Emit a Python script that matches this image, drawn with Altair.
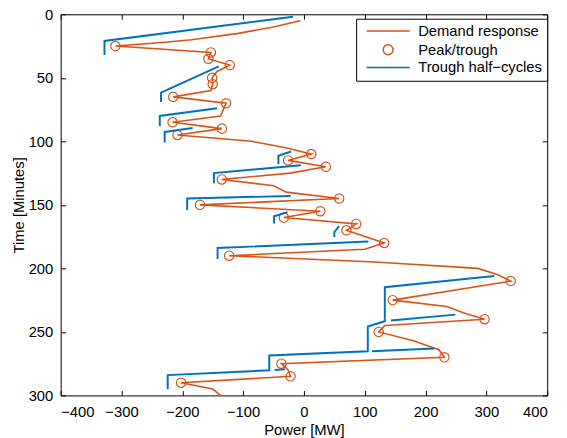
import altair as alt
import pandas as pd

ORANGE = "#D95319"
BLUE = "#0072BD"
SERIES = ["Demand response", "Peak/trough", "Trough half−cycles"]

# Demand response (minutes, MW)
dr_time = [5, 10, 15, 20, 22, 24, 25, 30, 35, 40, 45, 50, 55, 60, 65, 70,
           80, 85, 90, 95, 100, 105, 110, 115, 120, 125, 130,
           135, 140, 145, 150, 155, 160, 165, 170,
           180, 185, 190, 195, 200, 205, 210,
           225, 230, 235, 240, 245, 250, 257, 264, 270,
           275, 280, 285, 290, 295, 300]
dr_power = [-6, -50, -108, -185, -228, -282, -310, -153, -157, -122, -143, -151, -150, -153, -215, -128,
            -137, -216, -135, -208, -86, -30, 12, -26, 36, -23, -135,
            -50, -29, 58, -171, 27, -33, 86, 70,
            132, 100, -123, 117, 286, 319, 340,
            146, 235, 262, 297, 133, 123, 180, 222, 231,
            -37, -26, -22, -202, -150, -137]

# Peaks / troughs
pk_time = [25, 30, 35, 40, 50, 55, 65, 70, 85, 90, 95, 110, 115, 120, 130,
           145, 150, 155, 160, 165, 170, 180, 190, 210, 225, 240, 250, 270, 275, 285, 290]
pk_power = [-310, -153, -157, -122, -151, -150, -215, -128, -216, -135, -208, 12, -26, 36, -135,
            58, -171, 27, -33, 86, 70, 132, -123, 340, 146, 297, 123, 231, -37, -22, -202]

# Trough half-cycles (separate polylines)
tr_seg = [1, 1, 1, 2, 2, 2, 3, 3, 3, 4, 4, 4, 5, 5, 5, 6, 6, 6, 7, 7, 7, 8, 8, 8, 9, 9, 9, 10, 10, 10,
          11, 11, 11, 11, 11, 11, 11, 11, 11, 12, 12, 13, 13, 14, 14]
tr_time = [2, 21, 32, 41, 61.6, 69, 74, 80, 88, 89.5, 92.6, 101, 108, 111.4, 118, 118.8, 125, 133,
           143, 145, 154, 155.7, 159, 164.7, 166.8, 171.5, 175.3, 178.8, 184, 192.6,
           206, 214.8, 241.6, 245.7, 265.3, 268.6, 280.2, 284, 295.2, 236.4, 241, 263, 265.3, 279.5, 280]
tr_power = [-18, -328, -328, -140, -235, -235, -143, -237, -237, -183, -229, -229, -21, -42, -42,
            -5, -148, -148, -22, -192, -192, -27, -49, -49, 58, 50, 50, 106, -142, -142,
            313, 133, 133, 105, 105, -57, -57, -224, -224, 249, 143, 214, 112, -31, -48]

xticks = [-400, -300, -200, -100, 0, 100, 200, 300, 400]
yticks = [0, 50, 100, 150, 200, 250, 300]

dr = pd.DataFrame({"t": dr_time, "p": dr_power, "series": SERIES[0], "i": range(len(dr_time))})
pk = pd.DataFrame({"t": pk_time, "p": pk_power, "series": SERIES[1]})
tr = pd.DataFrame({"t": tr_time, "p": tr_power, "seg": tr_seg, "series": SERIES[2],
                   "i": range(len(tr_time))})

W, H = 494, 387
FONT = "Liberation Sans"
LINE_SYM = "M-4.4,0H4.4"

x_scale = alt.Scale(domain=[-400, 400], nice=False, zero=False)
y_scale = alt.Scale(domain=[0, 300], reverse=True, nice=False, zero=False)
color_scale = alt.Scale(domain=SERIES, range=[ORANGE, ORANGE, BLUE])
shape_scale = alt.Scale(domain=SERIES, range=[LINE_SYM, "circle", LINE_SYM])

legend = alt.Legend(title=None, orient="none", legendX=300, legendY=4.5,
                    strokeColor="black", fillColor="white",
                    padding=5, labelFontSize=15, labelFont=FONT, labelColor="black",
                    symbolSize=100, symbolStrokeWidth=1.5, symbolOffset=20, labelOffset=23,
                    rowPadding=2, labelLimit=400)

tick_common = dict(values=xticks, labels=False, title=None, domain=False, grid=False,
                   ticks=True, tickSize=5, tickColor="black", tickWidth=1)
ytick_common = dict(values=yticks, labels=False, title=None, domain=False, grid=False,
                    ticks=True, tickSize=5, tickColor="black", tickWidth=1)

line = alt.Chart(dr).mark_line(strokeWidth=1.6).encode(
    x=alt.X("p:Q", scale=x_scale,
            axis=alt.Axis(orient="bottom", values=xticks, title="Power [MW]", ticks=False,
                          domain=False, grid=False, labelPadding=9, titlePadding=4)),
    y=alt.Y("t:Q", scale=y_scale,
            axis=alt.Axis(orient="left", values=yticks, title="Time [Minutes]", ticks=False,
                          domain=False, grid=False, labelPadding=8, titlePadding=2)),
    color=alt.Color("series:N", scale=color_scale, legend=legend),
    order="i:Q",
)

points = alt.Chart(pk).mark_point(filled=False, strokeWidth=1.2, opacity=1, size=90).encode(
    x=alt.X("p:Q", scale=x_scale, axis=alt.Axis(orient="top", offset=-H, **tick_common)),
    y=alt.Y("t:Q", scale=y_scale, axis=alt.Axis(orient="right", offset=-W, **ytick_common)),
    color=alt.Color("series:N", scale=color_scale, legend=legend),
    shape=alt.Shape("series:N", scale=shape_scale, legend=legend),
)

trough = alt.Chart(tr).mark_line(strokeWidth=2).encode(
    x=alt.X("p:Q", scale=x_scale, axis=alt.Axis(orient="bottom", offset=-H, **tick_common)),
    y=alt.Y("t:Q", scale=y_scale, axis=alt.Axis(orient="left", offset=-W, **ytick_common)),
    color=alt.Color("series:N", scale=color_scale, legend=legend),
    detail="seg:N",
    order="i:Q",
)

chart = alt.layer(line, points, trough).resolve_axis(x="independent", y="independent").properties(
    width=W, height=H,
    autosize=alt.AutoSizeParams(type="none"),
    padding={"left": 53.5, "top": 3, "right": 12, "bottom": 50},
).configure_view(stroke="black", strokeWidth=1).configure_axis(
    labelFont=FONT, labelFontSize=15, labelColor="black",
    titleFont=FONT, titleFontSize=15, titleFontWeight="normal", titleColor="black",
)

chart.save("out.html", embed_options={"renderer": "svg", "actions": False})
